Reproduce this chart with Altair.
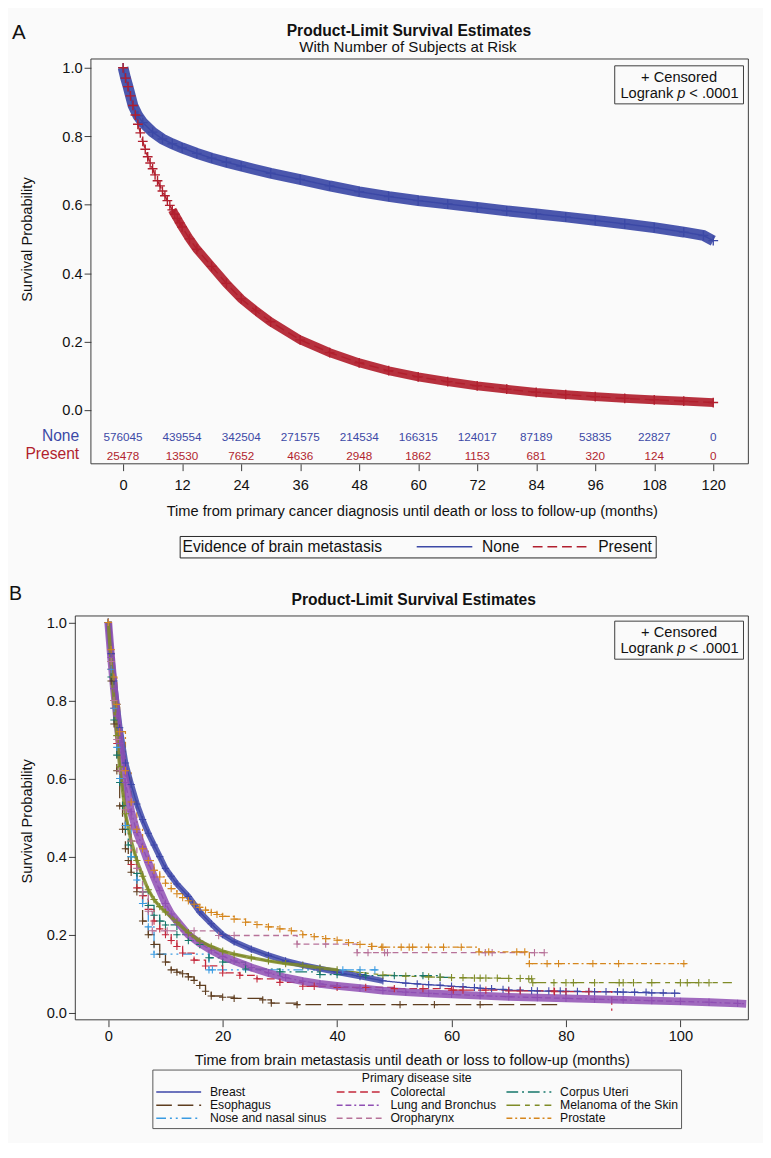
import altair as alt
import pandas as pd

FONT = "Liberation Sans"
BG = "#fafafa"
INK = "#111111"
FRAME = "#3a3a3a"
CROSS = "M-1,0L1,0M0,-1L0,1"

# ---------------- Panel A data ----------------
A_GROUPS = ["None", "Present"]
A_COLORS = ["#3c49a6", "#b11f2e"]
A_DASHES = [[1, 0], [10, 5]]

NONE_T = [0, 0.5, 1, 2, 3, 4, 6, 8, 10, 12, 15, 18, 21, 24, 30, 36, 42, 48, 54, 60,
          66, 72, 78, 84, 90, 96, 102, 108, 114, 118, 120]
NONE_S = [1.0, 0.97, 0.945, 0.89, 0.86, 0.84, 0.812, 0.792, 0.778, 0.766, 0.75, 0.736,
          0.724, 0.713, 0.692, 0.674, 0.655, 0.638, 0.624, 0.612, 0.602, 0.592, 0.582,
          0.573, 0.564, 0.554, 0.544, 0.533, 0.52, 0.51, 0.495]

PRES_T = [0, 0.5, 1, 1.5, 2, 2.5, 3, 3.5, 4, 4.5, 5, 5.5, 6, 6.5, 7, 7.5, 8, 8.5, 9, 9.5,
          10, 10.5, 11, 11.5, 12, 13.5, 15, 18, 21, 24, 27, 30, 36, 42, 48, 54, 60, 66,
          72, 78, 84, 90, 96, 102, 108, 114, 120]
PRES_S = [1.0, 0.97, 0.945, 0.918, 0.89, 0.862, 0.835, 0.81, 0.785, 0.762, 0.74, 0.722,
          0.705, 0.687, 0.67, 0.655, 0.64, 0.626, 0.612, 0.598, 0.585, 0.572, 0.56, 0.547,
          0.535, 0.5, 0.47, 0.42, 0.37, 0.325, 0.29, 0.258, 0.205, 0.168, 0.138, 0.115,
          0.097, 0.083, 0.071, 0.061, 0.052, 0.045, 0.039, 0.034, 0.03, 0.026, 0.022]

RISK_MONTHS = [0, 12, 24, 36, 48, 60, 72, 84, 96, 108, 120]
RISK_NONE = [576045, 439554, 342504, 271575, 214534, 166315, 124017, 87189, 53835, 22827, 0]
RISK_PRESENT = [25478, 13530, 7652, 4636, 2948, 1862, 1153, 681, 320, 124, 0]

# ---------------- Panel B data ----------------
B_SITES = ["Breast", "Colorectal", "Corpus Uteri", "Esophagus", "Lung and Bronchus",
           "Melanoma of the Skin", "Nose and nasal sinus", "Oropharynx", "Prostate"]
B_COLORS = ["#3d46a8", "#c4283b", "#16776b", "#5e3d1f", "#8f4fb3", "#7f8b27",
            "#3a9be2", "#b77299", "#d5861d"]
B_DASHES = [[1, 0], [8, 4], [12, 4, 2, 4], [16, 6], [6, 3, 6, 3, 2, 3],
            [14, 5, 5, 5, 5, 5], [10, 4, 2, 4, 2, 4], [6, 4], [6, 3, 2, 3]]

BREAST_T = [0, 0.5, 1, 1.5, 2, 3, 4, 5, 6, 7, 8, 9, 10, 11, 12, 14, 16, 18, 20, 22, 25, 28,
            31, 34, 37, 40, 44, 48, 52, 56, 60, 65, 70, 75, 80, 85, 90, 95, 100]
BREAST_S = [1.0, 0.92, 0.85, 0.79, 0.73, 0.64, 0.585, 0.535, 0.495, 0.46, 0.43, 0.4, 0.37,
            0.35, 0.33, 0.298, 0.258, 0.228, 0.2, 0.182, 0.163, 0.147, 0.133, 0.122, 0.113,
            0.104, 0.093, 0.082, 0.076, 0.072, 0.068, 0.063, 0.058, 0.056, 0.055, 0.054,
            0.053, 0.051, 0.05]
BREAST_CT = [54, 58, 62, 64, 67, 69, 72, 74, 77, 79, 82, 84, 87, 89, 92, 94, 97, 99]
BREAST_CS = [0.074, 0.071, 0.067, 0.065, 0.062, 0.06, 0.058, 0.057, 0.056, 0.056, 0.055,
             0.055, 0.054, 0.054, 0.053, 0.053, 0.051, 0.05]

COLORECTAL_T = [0, 0.5, 1, 1.5, 2, 3, 4, 5, 6, 7, 8, 9, 10, 11, 12, 13, 15, 17, 20, 23, 26,
                30, 34, 40, 50, 60, 70, 78, 88]
COLORECTAL_S = [1.0, 0.88, 0.78, 0.69, 0.6, 0.48, 0.38, 0.32, 0.3, 0.265, 0.235, 0.215, 0.2,
                0.185, 0.17, 0.153, 0.135, 0.12, 0.102, 0.096, 0.087, 0.078, 0.068, 0.065,
                0.062, 0.058, 0.056, 0.054, 0.005]
COLORECTAL_CT = [36, 45, 55, 60.3, 62, 66, 72, 77.9, 80, 84]
COLORECTAL_CS = [0.068, 0.065, 0.062, 0.058, 0.058, 0.058, 0.056, 0.056, 0.054, 0.054]

CORPUS_T = [0, 0.5, 1, 1.5, 2, 2.5, 3, 3.5, 4, 5, 6, 7, 8, 9, 10, 12, 14, 16, 17.6, 20, 24,
            30, 37, 45, 58, 60]
CORPUS_S = [1.0, 0.86, 0.75, 0.66, 0.59, 0.53, 0.47, 0.43, 0.4, 0.357, 0.31, 0.275, 0.25,
            0.235, 0.225, 0.2, 0.185, 0.175, 0.141, 0.13, 0.112, 0.105, 0.098, 0.095,
            0.091, 0.091]
CORPUS_CT = [40, 50, 55]
CORPUS_CS = [0.098, 0.095, 0.095]

ESOPH_T = [0, 0.5, 1, 1.5, 2, 2.5, 3, 3.5, 4, 5, 6, 7, 8, 9, 10, 11, 12, 13, 14, 15, 16, 17,
           18, 20, 22, 27, 28.5, 33, 79]
ESOPH_S = [1.0, 0.85, 0.74, 0.62, 0.53, 0.47, 0.42, 0.39, 0.36, 0.31, 0.235, 0.2, 0.175,
           0.15, 0.13, 0.11, 0.104, 0.1, 0.092, 0.083, 0.07, 0.055, 0.043, 0.04, 0.037,
           0.033, 0.025, 0.021, 0.021]
ESOPH_CT = [51, 57, 65]
ESOPH_CS = [0.021, 0.021, 0.021]

LUNG_T = [0, 0.5, 1, 1.5, 2, 3, 4, 5, 6, 7, 8, 9, 10, 11, 12, 14, 16, 18, 20, 22, 25, 28, 31,
          34, 37, 40, 44, 48, 52, 56, 60, 65, 70, 75, 80, 85, 90, 95, 100, 105, 110, 111.5]
LUNG_S = [1.0, 0.91, 0.83, 0.76, 0.69, 0.59, 0.515, 0.462, 0.425, 0.385, 0.348, 0.313, 0.28,
          0.253, 0.235, 0.2, 0.178, 0.16, 0.145, 0.133, 0.116, 0.102, 0.09, 0.081, 0.074,
          0.069, 0.063, 0.057, 0.053, 0.05, 0.047, 0.044, 0.041, 0.039, 0.037, 0.035, 0.033,
          0.031, 0.029, 0.027, 0.024, 0.023]
LUNG_CT = []
LUNG_CS = []

MELANOMA_T = [0, 0.5, 1, 1.5, 2, 3, 4, 5, 6, 7, 8, 9, 10, 12, 14, 16, 18, 20, 22, 25, 28, 31,
              34, 37, 40, 44, 48, 52, 56, 60, 65, 70, 74, 74.2, 80, 85, 90, 95, 100, 105, 109]
MELANOMA_S = [1.0, 0.9, 0.8, 0.71, 0.63, 0.51, 0.44, 0.39, 0.35, 0.315, 0.29, 0.272, 0.258,
              0.232, 0.205, 0.184, 0.17, 0.158, 0.15, 0.141, 0.133, 0.126, 0.121, 0.115,
              0.11, 0.103, 0.097, 0.094, 0.092, 0.09, 0.089, 0.088, 0.087, 0.077, 0.077,
              0.077, 0.077, 0.077, 0.077, 0.077, 0.077]
MELANOMA_CT = [58, 62, 64, 66, 68, 72, 73.5, 77.9, 81.3, 89.3, 91.8, 101.2, 103.2]
MELANOMA_CS = [0.091, 0.09, 0.089, 0.089, 0.089, 0.088, 0.087, 0.077, 0.077, 0.077, 0.077,
               0.077, 0.077]

NOSE_T = [0, 0.5, 1, 1.5, 2, 3, 4, 5, 6, 7, 8, 17.6, 47]
NOSE_S = [1.0, 0.88, 0.78, 0.68, 0.6, 0.48, 0.4, 0.34, 0.28, 0.22, 0.15, 0.11, 0.11]
NOSE_CT = [18.2, 41, 44, 46.6]
NOSE_CS = [0.11, 0.11, 0.11, 0.11]

OROPH_T = [0, 0.5, 1, 1.5, 2, 3, 4, 5, 6, 7, 7.7, 19.3, 33, 43.5, 76.8]
OROPH_S = [1.0, 0.9, 0.8, 0.7, 0.62, 0.52, 0.44, 0.37, 0.31, 0.26, 0.21, 0.198, 0.176,
           0.154, 0.154]
OROPH_CT = [10.3, 15, 22, 38, 45.4, 48.3, 48.8, 65.9, 67.1, 74.5, 76.2]
OROPH_CS = [0.21, 0.21, 0.198, 0.176, 0.154, 0.154, 0.154, 0.154, 0.154, 0.154, 0.154]

PROSTATE_T = [0, 0.5, 1, 1.5, 2, 3, 4, 5, 6, 7, 8, 9, 10, 11, 12, 13, 14, 15, 16, 17, 18, 19,
              20, 22, 24, 26, 28, 30, 32, 34, 36, 38, 40, 42, 44, 46, 48, 64.8, 73.6, 101]
PROSTATE_S = [1.0, 0.93, 0.86, 0.79, 0.72, 0.62, 0.54, 0.47, 0.42, 0.39, 0.365, 0.348, 0.332,
              0.318, 0.305, 0.295, 0.287, 0.278, 0.27, 0.263, 0.257, 0.252, 0.247, 0.24,
              0.232, 0.226, 0.22, 0.215, 0.21, 0.2, 0.195, 0.19, 0.186, 0.18, 0.175, 0.17,
              0.168, 0.156, 0.126, 0.126]
PROSTATE_CT = [46.1, 47.8, 51.2, 52.6, 53.2, 56, 58.6, 61.7, 66.5, 71.4, 72.8, 76.7, 78.7,
               84.7, 89.2, 100.6]
PROSTATE_CS = [0.17, 0.168, 0.168, 0.168, 0.168, 0.168, 0.168, 0.168, 0.156, 0.156, 0.156,
               0.126, 0.126, 0.126, 0.126, 0.126]

B_CURVES = {
    "Breast": (BREAST_T, BREAST_S, BREAST_CT, BREAST_CS),
    "Colorectal": (COLORECTAL_T, COLORECTAL_S, COLORECTAL_CT, COLORECTAL_CS),
    "Corpus Uteri": (CORPUS_T, CORPUS_S, CORPUS_CT, CORPUS_CS),
    "Esophagus": (ESOPH_T, ESOPH_S, ESOPH_CT, ESOPH_CS),
    "Lung and Bronchus": (LUNG_T, LUNG_S, LUNG_CT, LUNG_CS),
    "Melanoma of the Skin": (MELANOMA_T, MELANOMA_S, MELANOMA_CT, MELANOMA_CS),
    "Nose and nasal sinus": (NOSE_T, NOSE_S, NOSE_CT, NOSE_CS),
    "Oropharynx": (OROPH_T, OROPH_S, OROPH_CT, OROPH_CS),
    "Prostate": (PROSTATE_T, PROSTATE_S, PROSTATE_CT, PROSTATE_CS),
}
SMOOTH_SITES = ["Breast", "Lung and Bronchus", "Melanoma of the Skin"]

# ---------------- layout constants (page pixels) ----------------
# Both panels share the same plot origin (x = 76); panel A's frame starts 16px further right.
OX = 76
AY0, AW, AH, A_FRAME_L = 45, 690, 415, 16
BY0, BW, BH = 623, 690, 414
BOX_L, BOX_R = 629, 761


def label(text, x, y, size, color=INK, weight="normal", align="center", style="normal"):
    return alt.Chart(alt.Data(values=[{"lab": text}])).mark_text(
        font=FONT, fontSize=size, fontWeight=weight, fontStyle=style, color=color,
        align=align, baseline="alphabetic"
    ).encode(x=alt.value(x), y=alt.value(y), text="lab:N")


def frame(x1, x2, h):
    return alt.Chart(alt.Data(values=[{}])).mark_rect(
        fillOpacity=0, stroke=FRAME, strokeWidth=1
    ).encode(x=alt.value(x1), x2=alt.value(x2), y=alt.value(0), y2=alt.value(h))


def censor_box(y_top, y_bot):
    cx = (BOX_L + BOX_R) / 2 - OX
    box = alt.Chart(alt.Data(values=[{}])).mark_rect(
        fill=BG, stroke=FRAME, strokeWidth=1
    ).encode(x=alt.value(BOX_L - OX), x2=alt.value(BOX_R - OX),
             y=alt.value(y_top), y2=alt.value(y_bot))
    return [
        box,
        label("+ Censored", cx, y_top + 16.5, 15),
        label("Logrank", cx - 6, y_top + 33, 15, align="right"),
        label("p", cx - 2, y_top + 33, 15, align="left", style="italic"),
        label("< .0001", cx + 10.5, y_top + 33, 15, align="left"),
    ]


def axis_common(**kw):
    base = dict(grid=False, domain=False, tickColor=FRAME, tickSize=7, labelFont=FONT,
                titleFont=FONT, labelFontSize=15, titleFontSize=15, titleFontWeight="normal",
                labelColor=INK, titleColor=INK)
    base.update(kw)
    return alt.Axis(**base)


# =================== Panel A ===================
a_df = pd.DataFrame({
    "t": NONE_T + PRES_T,
    "s": NONE_S + PRES_S,
    "group": ["None"] * len(NONE_T) + ["Present"] * len(PRES_T),
})
risk_df = pd.DataFrame({
    "t": RISK_MONTHS * 2,
    "n": RISK_NONE + RISK_PRESENT,
    "group": ["None"] * len(RISK_MONTHS) + ["Present"] * len(RISK_MONTHS),
})

ax_a = alt.X("t:Q", scale=alt.Scale(domain=[-9.72, 127.14], nice=False, zero=False),
             axis=axis_common(values=RISK_MONTHS, labelPadding=7, titlePadding=12,
                              title="Time from primary cancer diagnosis until death or loss to follow-up (months)"))
ay_a = alt.Y("s:Q", scale=alt.Scale(domain=[-0.157, 1.0257], nice=False, zero=False),
             axis=axis_common(values=[0, 0.2, 0.4, 0.6, 0.8, 1.0], format=".1f", labelPadding=2,
                              offset=-A_FRAME_L,
                              title="Survival Probability", titleX=-65.5, titleY=184.5,
                              titleAngle=270, titleAlign="center", titleBaseline="middle"))

leg_a = alt.Legend(title="Evidence of brain metastasis", orient="none", legendX=183 - OX,
                   legendY=534 - AY0, direction="horizontal", titleOrient="left",
                   strokeColor="#222222", fillColor=BG, padding=3, symbolType="stroke",
                   symbolSize=3249, symbolStrokeWidth=1.5, clipHeight=16, labelFontSize=16,
                   titleFontSize=16, titleFontWeight="normal", titleFont=FONT, labelFont=FONT,
                   labelOffset=9, columnPadding=12, titlePadding=34, titleLimit=400,
                   labelColor=INK, titleColor=INK)
col_a = alt.Color("group:N", scale=alt.Scale(domain=A_GROUPS, range=A_COLORS), legend=leg_a)
col_a_nl = alt.Color("group:N", scale=alt.Scale(domain=A_GROUPS, range=A_COLORS), legend=None)
dash_a = alt.StrokeDash("group:N", scale=alt.Scale(domain=A_GROUPS, range=A_DASHES), legend=leg_a)

base_a = alt.Chart(a_df)
# the layer that carries the legend comes first so its legend settings win the merge
lines_a = base_a.mark_line(strokeWidth=1.5).encode(x=ax_a, y=ay_a, color=col_a, strokeDash=dash_a)
band_none = base_a.transform_filter("datum.group == 'None'").mark_line(
    strokeWidth=11, opacity=0.92).encode(x=ax_a, y=ay_a, color=col_a_nl)
band_pres = base_a.transform_filter("datum.group == 'Present' && datum.t >= 10").mark_line(
    strokeWidth=9, opacity=0.92).encode(x=ax_a, y=ay_a, color=col_a_nl)
cross_a = base_a.mark_point(shape=CROSS, filled=False, size=100, strokeWidth=1.4, opacity=1).encode(
    x=ax_a, y=ay_a, color=col_a_nl)

risk_layers = []
for g, col, base_y in zip(A_GROUPS, A_COLORS, [437, 456]):
    risk_layers.append(
        alt.Chart(risk_df).transform_filter(f"datum.group == '{g}'").mark_text(
            font=FONT, fontSize=12, color=col, baseline="alphabetic"
        ).encode(x=ax_a, y=alt.value(base_y - AY0), text=alt.Text("n:Q", format="d"))
    )
    risk_layers.append(label(g, 80 - OX, base_y - 0.5 - AY0, 16, color=col, align="right"))

panel_a = alt.layer(
    lines_a, band_none, band_pres, cross_a, *risk_layers,
    *censor_box(52 - AY0, 91 - AY0),
    frame(A_FRAME_L, AW, AH),
    label("A", 11 - OX, 25 - AY0, 21, align="left"),
    label("Product-Limit Survival Estimates", 418 - OX, 21 - AY0, 16, weight="bold"),
    label("With Number of Subjects at Risk", 417 - OX, 37.5 - AY0, 15.5),
).properties(width=AW, height=AH)

# =================== Panel B ===================
rows, crows = [], []
for site in B_SITES:
    t, s, ct, cs = B_CURVES[site]
    rows += [{"site": site, "t": a, "s": b} for a, b in zip(t, s)]
    crows += [{"site": site, "t": a, "s": b} for a, b in zip(t[:-1], s[:-1])]
    crows += [{"site": site, "t": a, "s": b} for a, b in zip(ct, cs)]
b_df = pd.DataFrame(rows)
bc_df = pd.DataFrame(crows)

ax_b = alt.X("t:Q", scale=alt.Scale(domain=[-5.76, 111.88], nice=False, zero=False),
             axis=axis_common(values=[0, 20, 40, 60, 80, 100], labelPadding=2, titlePadding=10,
                              title="Time from brain metastasis until death or loss to follow-up (months)"))
ay_b = alt.Y("s:Q", scale=alt.Scale(domain=[-0.018, 1.0165], nice=False, zero=False),
             axis=axis_common(values=[0, 0.2, 0.4, 0.6, 0.8, 1.0], format=".1f", labelPadding=2,
                              title="Survival Probability", titleX=-50, titleY=210,
                              titleAngle=270, titleAlign="center", titleBaseline="middle"))
leg_b = alt.Legend(title="Primary disease site", orient="none", legendX=155 - OX,
                   legendY=465, columns=3, direction="horizontal",
                   strokeColor="#555555", fillColor=BG, padding=3,
                   symbolType="stroke", symbolSize=2116, symbolStrokeWidth=1.5, clipHeight=13,
                   labelFontSize=12.5, titleFontSize=12.5, titleFontWeight="normal",
                   titleFont=FONT, labelFont=FONT, labelOffset=8, columnPadding=9, rowPadding=0.5,
                   titleAnchor="middle", titlePadding=1, labelColor=INK, titleColor=INK)
col_b = alt.Color("site:N", scale=alt.Scale(domain=B_SITES, range=B_COLORS), legend=leg_b)
col_b_nl = alt.Color("site:N", scale=alt.Scale(domain=B_SITES, range=B_COLORS), legend=None)
dash_b = alt.StrokeDash("site:N", scale=alt.Scale(domain=B_SITES, range=B_DASHES), legend=leg_b)

base_b = alt.Chart(b_df)
smooth_filter = " || ".join(f"datum.site == '{s}'" for s in SMOOTH_SITES)
lines_smooth = base_b.transform_filter(smooth_filter).mark_line(strokeWidth=1.3).encode(
    x=ax_b, y=ay_b, color=col_b, strokeDash=dash_b)
lines_step = base_b.transform_filter(f"!({smooth_filter})").mark_line(
    strokeWidth=1.3, interpolate="step-after").encode(
    x=ax_b, y=ay_b, color=col_b, strokeDash=dash_b)
bands_b = []
for site, t_end, w in [("Breast", 48, 6), ("Lung and Bronchus", 112, 8),
                       ("Melanoma of the Skin", 40, 3.5)]:
    bands_b.append(base_b.transform_filter(
        f"datum.site == '{site}' && datum.t <= {t_end}").mark_line(
        strokeWidth=w, opacity=0.85).encode(x=ax_b, y=ay_b, color=col_b_nl))
cross_b = alt.Chart(bc_df).mark_point(shape=CROSS, filled=False, size=56, strokeWidth=1.1,
                                      opacity=1).encode(x=ax_b, y=ay_b, color=col_b_nl)

panel_b = alt.layer(
    lines_smooth, lines_step, *bands_b, cross_b,
    *censor_box(628.3 - BY0, 667.3 - BY0),
    frame(0, BW, BH),
    label("B", 8 - OX, 606.7 - BY0, 20, align="left"),
    label("Product-Limit Survival Estimates", 423 - OX, 611.5 - BY0, 16, weight="bold"),
).properties(width=BW, height=BH)

chart = alt.vconcat(panel_a, panel_b, spacing=26).resolve_scale(
    color="independent", strokeDash="independent"
).resolve_legend(
    color="independent", strokeDash="independent"
).configure_view(
    stroke="transparent"
).properties(padding=0, background=BG)

chart.save("out.html", embed_options={"renderer": "svg", "actions": False})
